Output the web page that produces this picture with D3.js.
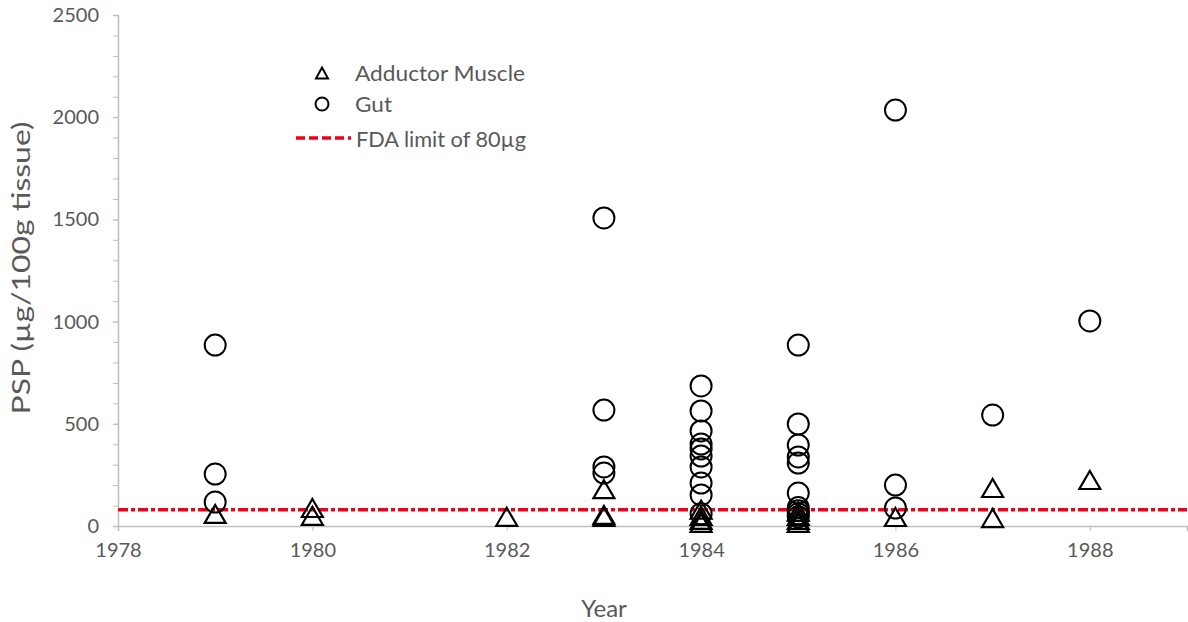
<!DOCTYPE html>
<html>
<head>
<meta charset="utf-8">
<script src="https://cdn.jsdelivr.net/npm/d3@7"></script>
<style>
  html, body { margin: 0; padding: 0; background: #fff; }
  svg { display: block; }
  text { font-family: Lato, "Open Sans", sans-serif; fill: #595959; }
</style>
</head>
<body>
<svg id="chart" width="1188" height="622"></svg>
<script>
// PSP toxin concentration in scallop tissue by sampling year
const muscleYears  = [1979, 1980, 1980, 1982, 1983, 1983, 1983, 1984, 1984, 1984, 1984, 1985, 1985, 1985, 1985, 1986, 1987, 1987, 1988];
const muscleValues = [59, 88, 50, 45, 180, 54, 45, 80, 50, 30, 15, 70, 50, 30, 15, 44, 186, 39, 225];

const gutYears  = [1979, 1979, 1979,
                   1983, 1983, 1983, 1983,
                   1984, 1984, 1984, 1984, 1984, 1984, 1984, 1984, 1984, 1984,
                   1985, 1985, 1985, 1985, 1985, 1985, 1985, 1985, 1985, 1985,
                   1986, 1986, 1986,
                   1987,
                   1988];
const gutValues = [885, 254, 117,
                   1507, 567, 289, 259,
                   685, 563, 465, 401, 377, 342, 289, 210, 152, 60,
                   885, 499, 396, 338, 308, 161, 90, 75, 60, 45,
                   2035, 200, 88,
                   543,
                   1003];

const fdaLimit = 80;
const yTicks = [0, 500, 1000, 1500, 2000, 2500];
const yMinorTicks = d3.range(0, 2501, 100);
const xTicks = [1978, 1980, 1982, 1984, 1986, 1988];
const legendLabels = ["Adductor Muscle", "Gut", "FDA limit of 80µg"];

const svg = d3.select("#chart");
const x = d3.scaleLinear().domain([1978, 1989]).range([118, 1187]);
const y = d3.scaleLinear().domain([0, 2500]).range([526, 15]);

const axisColor = "#bfbfbf";

// Minor ticks on the value axis
svg.append("g")
  .attr("transform", `translate(${x(1978)},0)`)
  .call(d3.axisLeft(y).tickValues(yMinorTicks).tickSize(5).tickFormat(""))
  .call(g => g.select(".domain").remove())
  .call(g => g.selectAll("line").attr("stroke", axisColor));

// Value axis
svg.append("g")
  .attr("transform", `translate(${x(1978)},0)`)
  .call(d3.axisLeft(y).tickValues(yTicks).tickSize(5).tickPadding(14).tickFormat(d3.format("d")))
  .call(g => g.select(".domain").attr("stroke", axisColor).attr("stroke-width", 1.5))
  .call(g => g.selectAll("line").attr("stroke", axisColor))
  .call(g => g.selectAll("text").style("font-size", "20px").attr("fill", "#595959"));

// Year axis
svg.append("g")
  .attr("transform", `translate(0,${y(0)})`)
  .call(d3.axisBottom(x).tickValues(xTicks).tickSize(5).tickPadding(12).tickFormat(d3.format("d")))
  .call(g => g.select(".domain").attr("stroke", axisColor).attr("stroke-width", 1.5))
  .call(g => g.selectAll("line").attr("stroke", axisColor))
  .call(g => g.selectAll("text").style("font-size", "20px").attr("fill", "#595959"));

// Axis titles
svg.append("text")
  .attr("x", 604).attr("y", 617)
  .attr("text-anchor", "middle")
  .style("font-size", "24px")
  .text("Year");

svg.append("text")
  .attr("transform", `translate(30,268) rotate(-90)`)
  .attr("text-anchor", "middle")
  .attr("textLength", 293)
  .attr("lengthAdjust", "spacingAndGlyphs")
  .style("font-size", "25px")
  .text("PSP (µg/100g tissue)");

// Triangle outline centred on its bounding box
function trianglePath(cx, cy, w, h) {
  return `M${cx},${cy - h / 2}L${cx + w / 2},${cy + h / 2}L${cx - w / 2},${cy + h / 2}Z`;
}

// FDA limit line
svg.append("line")
  .attr("x1", x(1978)).attr("x2", x(1989))
  .attr("y1", y(fdaLimit)).attr("y2", y(fdaLimit))
  .attr("stroke", "#f00018")
  .attr("stroke-width", 3.5)
  .attr("stroke-dasharray", "10,3,4,3");

// Gut samples
svg.append("g").selectAll("circle")
  .data(gutYears.map((yr, i) => ({ yr, v: gutValues[i] })))
  .join("circle")
  .attr("cx", d => x(d.yr))
  .attr("cy", d => y(d.v))
  .attr("r", 10.5)
  .attr("fill", "none")
  .attr("stroke", "#000")
  .attr("stroke-width", 2);

// Adductor muscle samples
svg.append("g").selectAll("path")
  .data(muscleYears.map((yr, i) => ({ yr, v: muscleValues[i] })))
  .join("path")
  .attr("d", d => trianglePath(x(d.yr), y(d.v), 21, 18))
  .attr("fill", "none")
  .attr("stroke", "#000")
  .attr("stroke-width", 2.2)
  .attr("stroke-linejoin", "miter");

// Legend
const legend = svg.append("g");
legend.append("path")
  .attr("d", trianglePath(322, 73, 12, 11))
  .attr("fill", "none").attr("stroke", "#000").attr("stroke-width", 2);
legend.append("circle")
  .attr("cx", 322).attr("cy", 104).attr("r", 6.5)
  .attr("fill", "none").attr("stroke", "#000").attr("stroke-width", 2);
legend.append("line")
  .attr("x1", 296).attr("x2", 351).attr("y1", 138).attr("y2", 138)
  .attr("stroke", "#f00018").attr("stroke-width", 3.5)
  .attr("stroke-dasharray", "9,4");
legend.selectAll("text")
  .data(legendLabels)
  .join("text")
  .attr("x", (d, i) => i === 2 ? 356 : 355)
  .attr("y", (d, i) => [81, 112, 147][i])
  .attr("textLength", (d, i) => [170, 37, 170][i])
  .attr("lengthAdjust", "spacingAndGlyphs")
  .style("font-size", "22px")
  .text(d => d);
</script>
</body>
</html>
